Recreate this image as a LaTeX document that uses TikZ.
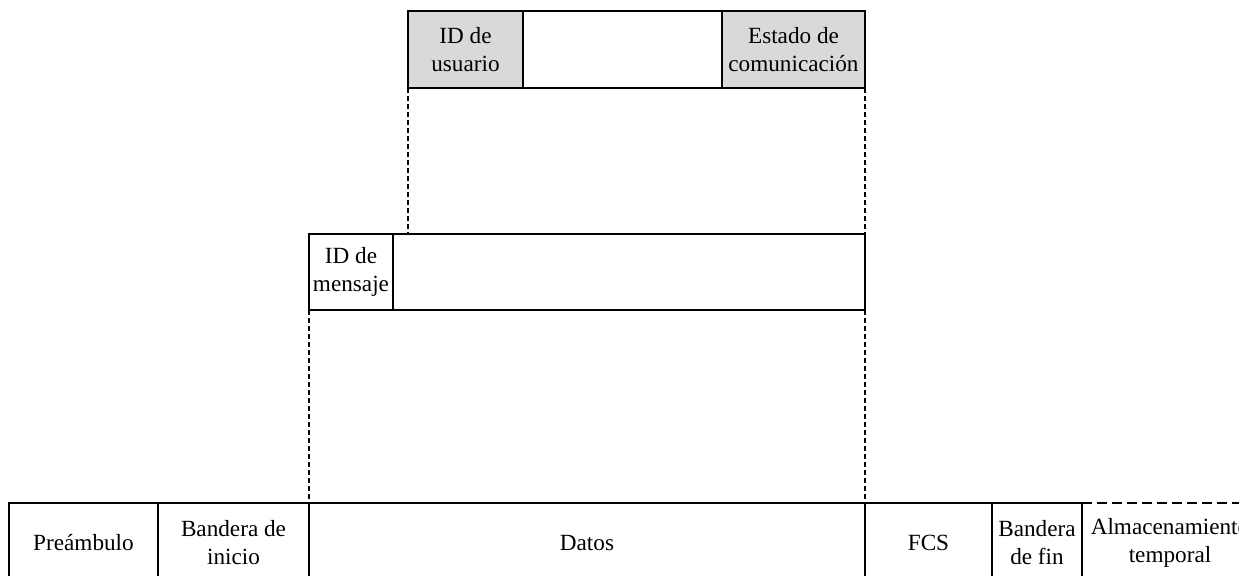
\documentclass[tikz,border=0pt]{standalone}
\usepackage{fontspec}
\setmainfont{Liberation Serif}
\begin{document}
\begin{tikzpicture}[x=0.5pt,y=-0.5pt,
  cell/.style={draw,line width=0.7pt,inner sep=0pt,outer sep=0pt,align=center,
    font=\fontsize{11.6}{14}\selectfont},
  shaded/.style={cell,fill=gray!30},
  dots/.style={line width=1.1pt,dash pattern=on 2.5pt off 1.5pt},
  dashline/.style={line width=1.1pt,dash pattern=on 5pt off 2.5pt}]
\useasboundingbox (0,0) rectangle (1239,575);
\clip (0,0) rectangle (1239,575);
% top record
\node[shaded,minimum width=57.5pt,minimum height=38.5pt] (uid) at (465.5,49.5) {ID de\\usuario};
\node[cell,minimum width=99.5pt,minimum height=38.5pt] (urest) at (622.5,49.5) {};
\node[shaded,minimum width=71.5pt,minimum height=38.5pt] (est) at (793.5,49.5) {Estado de\\comunicación};
% middle record
\node[cell,minimum width=42pt,minimum height=38pt] (mid) at (351,272) {ID de\\mensaje};
\node[cell,minimum width=236pt,minimum height=38pt] (mrest) at (629,272) {};
% bottom frame
\node[cell,minimum width=74.5pt,minimum height=40pt] (pre) at (83.5,543) {Preámbulo};
\node[cell,minimum width=75.5pt,minimum height=40pt] (ini) at (233.5,543) {Bandera de\\inicio};
\node[cell,minimum width=278pt,minimum height=40pt] (dat) at (587,543) {Datos};
\node[cell,minimum width=63.5pt,minimum height=40pt] (fcs) at (928.5,543) {FCS};
\node[cell,minimum width=45pt,minimum height=40pt] (fin) at (1037,543) {Bandera\\de fin};
\node[cell,draw=none,minimum width=88pt,minimum height=40pt] (alm) at (1170,543) {Almacenamiento\\temporal};
\draw[dashline] (alm.north west) -- (alm.north east);
% expansion guides
\draw[dots] (uid.south west) -- (uid.south west |- mrest.north);
\draw[dots] (est.south east) -- (est.south east |- mrest.north);
\draw[dots] (mid.south west) -- (mid.south west |- dat.north);
\draw[dots] (mrest.south east) -- (mrest.south east |- dat.north);
\end{tikzpicture}
\end{document}
